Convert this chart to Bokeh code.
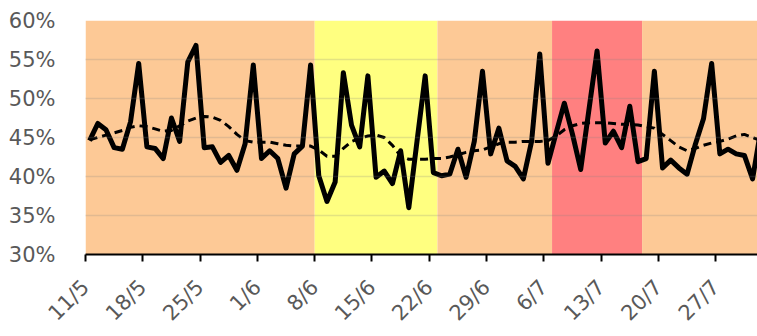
from bokeh.plotting import figure
from bokeh.models import Range1d, FixedTicker, PrintfTickFormatter, ColumnDataSource
from bokeh.embed import file_html
from bokeh.resources import INLINE
from math import pi

# Tick labels (every 7 days from 11/5)
tick_days = [0, 7, 14, 21, 28, 35, 42, 49, 56, 63, 70, 77]
tick_labels = ["11/5", "18/5", "25/5", "1/6", "8/6", "15/6", "22/6", "29/6",
               "6/7", "13/7", "20/7", "27/7"]

# Daily value (%) from 11/5 onward
daily = [44.6, 46.8, 46.0, 43.7, 43.5, 47.0, 54.5, 43.8, 43.6, 42.3,
         47.5, 44.5, 54.7, 56.8, 43.7, 43.8, 41.8, 42.7, 40.8, 44.2,
         54.3, 42.3, 43.3, 42.3, 38.5, 42.9, 43.9, 54.3, 40.1, 36.8,
         39.3, 53.3, 46.6, 43.8, 52.9, 39.9, 40.7, 39.1, 43.3, 36.0,
         44.5, 52.9, 40.5, 40.1, 40.3, 43.5, 39.9, 44.5, 53.5, 42.9,
         46.2, 42.0, 41.3, 39.7, 44.5, 55.7, 41.7, 45.6, 49.4, 45.4,
         40.9, 48.5, 56.1, 44.3, 45.8, 43.7, 49.0, 41.9, 42.3, 53.5,
         41.1, 42.1, 41.1, 40.3, 44.1, 47.4, 54.5, 42.9, 43.5, 42.9,
         42.7, 39.7, 46.0]

# Smoothed trend (%)
trend = [44.7, 45.0, 45.3, 45.6, 45.9, 46.3, 46.5, 46.4, 46.1, 45.8,
         45.9, 46.5, 47.1, 47.5, 47.7, 47.6, 47.2, 46.4, 45.4, 44.6,
         44.4, 44.4, 44.4, 44.2, 44.0, 43.9, 43.9, 43.9, 43.4, 42.6,
         42.6, 43.6, 44.5, 44.9, 45.2, 45.3, 45.0, 44.0, 42.6, 42.2,
         42.2, 42.2, 42.3, 42.3, 42.5, 42.8, 43.1, 43.3, 43.4, 43.8,
         44.2, 44.4, 44.4, 44.5, 44.5, 44.5, 44.6, 45.2, 46.0, 46.5,
         46.8, 46.9, 46.9, 46.9, 46.8, 46.7, 46.7, 46.6, 46.4, 46.2,
         45.4, 44.6, 43.8, 43.3, 43.6, 44.0, 44.3, 44.5, 44.8, 45.2,
         45.4, 45.0, 44.6]

# Background periods (day offsets from 11/5)
band_start = [0, 28, 43, 57, 68]
band_end = [28, 43, 57, 68, 90]
band_color = ["#FDC996", "#FFFF80", "#FDC996", "#FF8080", "#FDC996"]

x_pos = [d + 0.5 for d in range(len(daily))]

p = figure(width=757, height=336, output_backend="svg", toolbar_location=None,
           x_range=Range1d(0, 82.1), y_range=Range1d(30, 60),
           min_border_left=85, min_border_right=0, min_border_top=20,
           min_border_bottom=70)
p.outline_line_color = None
p.background_fill_color = "white"

bands = ColumnDataSource(dict(left=band_start, right=band_end, color=band_color))
p.quad(left="left", right="right", bottom=30, top=60, fill_color="color",
       line_color=None, source=bands)

p.line(x_pos, trend, line_color="black", line_width=3, line_dash="8 5")
p.line(x_pos, daily, line_color="black", line_width=5, line_join="round")

p.xgrid.visible = False
p.ygrid.ticker = FixedTicker(ticks=[30, 35, 40, 45, 50, 55, 60])
p.ygrid.grid_line_color = "#808080"
p.ygrid.grid_line_alpha = 0.22
p.ygrid.grid_line_width = 1.5
p.ygrid.level = "annotation"

p.yaxis.ticker = FixedTicker(ticks=[30, 35, 40, 45, 50, 55, 60])
p.yaxis.formatter = PrintfTickFormatter(format="%d%%")
p.yaxis.axis_line_color = None
p.yaxis.major_tick_line_color = None
p.yaxis.minor_tick_line_color = None
p.yaxis.major_label_standoff = 24
p.yaxis.major_label_text_font = "DejaVu Sans"
p.yaxis.major_label_text_font_size = "21px"
p.yaxis.major_label_text_color = "#595959"

p.xaxis.ticker = FixedTicker(ticks=tick_days)
p.xaxis.major_label_overrides = {d: lab for d, lab in zip(tick_days, tick_labels)}
p.xaxis.major_label_orientation = pi / 4
p.xaxis.axis_line_color = "black"
p.xaxis.axis_line_width = 2
p.xaxis.major_tick_line_color = "black"
p.xaxis.major_tick_line_width = 2
p.xaxis.major_tick_in = 0
p.xaxis.major_tick_out = 7
p.xaxis.minor_tick_line_color = None
p.xaxis.major_label_standoff = 22
p.xaxis.major_label_text_font = "DejaVu Sans"
p.xaxis.major_label_text_font_size = "21px"
p.xaxis.major_label_text_color = "#595959"

open("out.html", "w").write(file_html(p, INLINE))
